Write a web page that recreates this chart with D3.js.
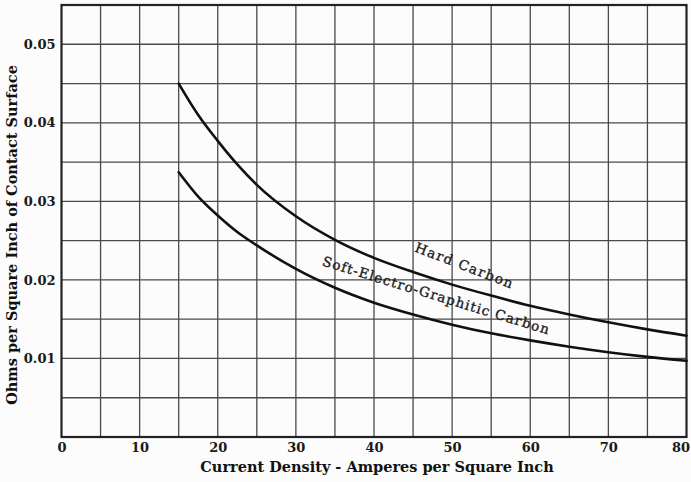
<!DOCTYPE html>
<html>
<head>
<meta charset="utf-8">
<script src="https://cdn.jsdelivr.net/npm/d3@7"></script>
<style>
  html, body { margin: 0; padding: 0; background: #fcfcfc; }
  svg { display: block; }
</style>
</head>
<body>
<svg id="chart" width="691" height="482"></svg>
<script>
// Current density (A / sq in) at which each curve is sampled
const density = [15, 17.5, 20, 22.5, 25, 30, 35, 40, 45, 50, 55, 60, 65, 70, 75, 80];
// Contact resistance, ohms per square inch of contact surface
const hardCarbon = [0.0450, 0.0410, 0.0377, 0.0347, 0.0321, 0.0281, 0.0251, 0.0228, 0.0210, 0.0194, 0.0180, 0.0167, 0.0156, 0.0146, 0.0137, 0.0129];
const softGraphitic = [0.0337, 0.0306, 0.0282, 0.0261, 0.0244, 0.0214, 0.0190, 0.0171, 0.0156, 0.0143, 0.0132, 0.0123, 0.0115, 0.0108, 0.0102, 0.0097];

const xTicks = [0, 10, 20, 30, 40, 50, 60, 70, 80];
const yTicks = [0.01, 0.02, 0.03, 0.04, 0.05];
const xGrid = d3.range(5, 80, 5);
const yGrid = d3.range(1, 11).map(i => i * 0.005);

const margin = { left: 61.5, right: 4.5, top: 5, bottom: 45 };
const W = 691, H = 482;

const svg = d3.select("#chart");
const x = d3.scaleLinear().domain([0, 80]).range([margin.left, W - margin.right]);
const y = d3.scaleLinear().domain([0, 0.055]).range([H - margin.bottom, margin.top]);

// grid
const grid = svg.append("g").attr("stroke", "#4a4a4a").attr("stroke-width", 1.3);
grid.selectAll("line.v").data(xGrid).join("line")
  .attr("x1", d => x(d)).attr("x2", d => x(d))
  .attr("y1", y(0)).attr("y2", y(0.055));
grid.selectAll("line.h").data(yGrid).join("line")
  .attr("y1", d => y(d)).attr("y2", d => y(d))
  .attr("x1", x(0)).attr("x2", x(80));

// frame
svg.append("rect")
  .attr("x", x(0)).attr("y", y(0.055))
  .attr("width", x(80) - x(0)).attr("height", y(0) - y(0.055))
  .attr("fill", "none").attr("stroke", "#222").attr("stroke-width", 2.2);

// axes (labels only; the frame and grid stand in for domain and tick lines)
const tickFont = "'DejaVu Serif', serif";
const xAxis = svg.append("g")
  .attr("transform", `translate(0,${y(0)})`)
  .call(d3.axisBottom(x).tickValues(xTicks).tickSize(0).tickPadding(6).tickFormat(d3.format("d")));
const yAxis = svg.append("g")
  .attr("transform", `translate(${x(0)},0)`)
  .call(d3.axisLeft(y).tickValues(yTicks).tickSize(0).tickPadding(6).tickFormat(d3.format(".2f")));
[xAxis, yAxis].forEach(a => {
  a.select(".domain").remove();
  a.selectAll("text")
    .attr("font-family", tickFont)
    .attr("font-weight", "bold")
    .attr("font-size", 13)
    .attr("fill", "#1a1a1a");
});
// keep the last x label inside the page
xAxis.selectAll(".tick").filter(d => d === 80).select("text").attr("dx", -6);

// curves
const line = d3.line()
  .x((d, i) => x(density[i]))
  .y(d => y(d))
  .curve(d3.curveMonotoneX);

[hardCarbon, softGraphitic].forEach(series => {
  svg.append("path")
    .datum(series)
    .attr("d", line)
    .attr("fill", "none")
    .attr("stroke", "#111")
    .attr("stroke-width", 2.6)
    .attr("stroke-linecap", "round");
});

// curve labels
const labelFont = "'DejaVu Serif', serif";
svg.append("text")
  .attr("transform", `translate(463,270) rotate(21)`)
  .attr("text-anchor", "middle")
  .attr("font-family", labelFont)
  .attr("font-size", 13.5)
  .attr("letter-spacing", 1.4)
  .attr("fill", "#1a1a1a")
  .attr("stroke", "#1a1a1a")
  .attr("stroke-width", 0.35)
  .text("Hard Carbon");

svg.append("text")
  .attr("transform", `translate(435,300) rotate(17)`)
  .attr("text-anchor", "middle")
  .attr("font-family", labelFont)
  .attr("font-size", 13.5)
  .attr("letter-spacing", 1.1)
  .attr("fill", "#1a1a1a")
  .attr("stroke", "#1a1a1a")
  .attr("stroke-width", 0.35)
  .text("Soft-Electro-Graphitic Carbon");

// axis titles
svg.append("text")
  .attr("x", 377).attr("y", 472)
  .attr("text-anchor", "middle")
  .attr("font-family", tickFont)
  .attr("font-weight", "bold")
  .attr("font-size", 14.5)
  .attr("fill", "#111")
  .text("Current Density -  Amperes per Square Inch");

svg.append("text")
  .attr("transform", `translate(17,235) rotate(-90)`)
  .attr("text-anchor", "middle")
  .attr("font-family", tickFont)
  .attr("font-weight", "bold")
  .attr("font-size", 14.5)
  .attr("fill", "#111")
  .text("Ohms per Square Inch of Contact Surface");
</script>
</body>
</html>
